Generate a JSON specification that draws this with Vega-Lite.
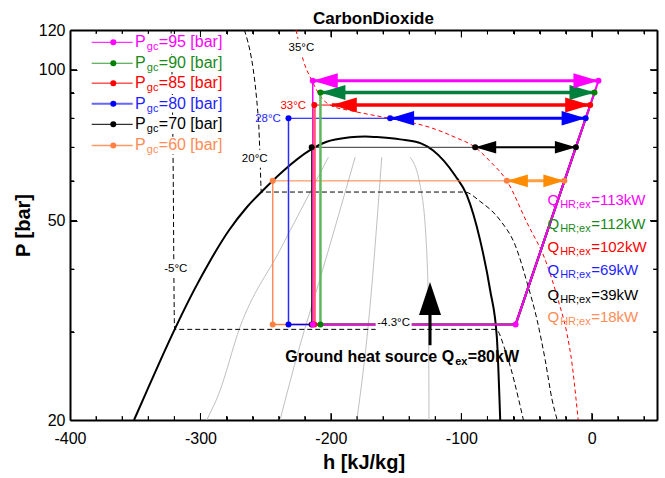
{
  "$schema": "https://vega.github.io/schema/vega-lite/v6.json",
  "width": 587,
  "height": 390,
  "autosize": {"type": "none"},
  "padding": {"left": 70, "top": 30, "right": 8, "bottom": 58},
  "background": "white",
  "title": {"text": "CarbonDioxide", "font": "Liberation Sans", "fontSize": 17, "fontWeight": "bold", "color": "black", "anchor": "middle", "dx": 10, "offset": -6},
  "config": {
    "view": {"stroke": null},
    "font": "Liberation Sans",
    "axis": {"grid": false, "domainColor": "black", "domainWidth": 2, "tickColor": "black", "tickWidth": 1, "labelFont": "Liberation Sans", "labelFontSize": 16, "labelColor": "black", "titleFont": "Liberation Sans", "titleFontSize": 20, "titleFontWeight": "bold", "titleColor": "black", "labelFlush": false}
  },
  "datasets": {
    "tk": [
      {"side": "b", "major": "n", "h": -380, "P": 20}, {"side": "b", "major": "n", "h": -360, "P": 20}, {"side": "b", "major": "n", "h": -340, "P": 20}, {"side": "b", "major": "n", "h": -320, "P": 20}, {"side": "b", "major": "y", "h": -300, "P": 20}, {"side": "b", "major": "n", "h": -280, "P": 20}, {"side": "b", "major": "n", "h": -260, "P": 20}, {"side": "b", "major": "n", "h": -240, "P": 20}, {"side": "b", "major": "n", "h": -220, "P": 20}, {"side": "b", "major": "y", "h": -200, "P": 20}, {"side": "b", "major": "n", "h": -180, "P": 20}, {"side": "b", "major": "n", "h": -160, "P": 20}, {"side": "b", "major": "n", "h": -140, "P": 20}, {"side": "b", "major": "n", "h": -120, "P": 20}, {"side": "b", "major": "y", "h": -100, "P": 20}, {"side": "b", "major": "n", "h": -80, "P": 20}, {"side": "b", "major": "n", "h": -60, "P": 20}, {"side": "b", "major": "n", "h": -40, "P": 20}, {"side": "b", "major": "n", "h": -20, "P": 20}, {"side": "b", "major": "y", "h": 0, "P": 20}, {"side": "b", "major": "n", "h": 20, "P": 20}, {"side": "b", "major": "n", "h": 40, "P": 20},
      {"side": "t", "major": "n", "h": -380, "P": 120}, {"side": "t", "major": "n", "h": -360, "P": 120}, {"side": "t", "major": "n", "h": -340, "P": 120}, {"side": "t", "major": "n", "h": -320, "P": 120}, {"side": "t", "major": "y", "h": -300, "P": 120}, {"side": "t", "major": "n", "h": -280, "P": 120}, {"side": "t", "major": "n", "h": -260, "P": 120}, {"side": "t", "major": "n", "h": -240, "P": 120}, {"side": "t", "major": "n", "h": -220, "P": 120}, {"side": "t", "major": "y", "h": -200, "P": 120}, {"side": "t", "major": "n", "h": -180, "P": 120}, {"side": "t", "major": "n", "h": -160, "P": 120}, {"side": "t", "major": "n", "h": -140, "P": 120}, {"side": "t", "major": "n", "h": -120, "P": 120}, {"side": "t", "major": "y", "h": -100, "P": 120}, {"side": "t", "major": "n", "h": -80, "P": 120}, {"side": "t", "major": "n", "h": -60, "P": 120}, {"side": "t", "major": "n", "h": -40, "P": 120}, {"side": "t", "major": "n", "h": -20, "P": 120}, {"side": "t", "major": "y", "h": 0, "P": 120}, {"side": "t", "major": "n", "h": 20, "P": 120}, {"side": "t", "major": "n", "h": 40, "P": 120},
      {"side": "l", "major": "n", "h": -400, "P": 30}, {"side": "l", "major": "n", "h": -400, "P": 40}, {"side": "l", "major": "y", "h": -400, "P": 50}, {"side": "l", "major": "n", "h": -400, "P": 60}, {"side": "l", "major": "n", "h": -400, "P": 70}, {"side": "l", "major": "n", "h": -400, "P": 80}, {"side": "l", "major": "n", "h": -400, "P": 90}, {"side": "l", "major": "y", "h": -400, "P": 100},
      {"side": "r", "major": "n", "h": 50, "P": 30}, {"side": "r", "major": "n", "h": 50, "P": 40}, {"side": "r", "major": "y", "h": 50, "P": 50}, {"side": "r", "major": "n", "h": 50, "P": 60}, {"side": "r", "major": "n", "h": 50, "P": 70}, {"side": "r", "major": "n", "h": 50, "P": 80}, {"side": "r", "major": "n", "h": 50, "P": 90}, {"side": "r", "major": "y", "h": 50, "P": 100}
    ],
    "dome": [
      {"h": -350.9, "P": 20}, {"h": -342.5, "P": 22.43}, {"h": -330.6, "P": 26.34}, {"h": -318.2, "P": 30.93}, {"h": -304.9, "P": 36.32}, {"h": -292.3, "P": 41.68}, {"h": -278.1, "P": 47.82}, {"h": -264.3, "P": 53.22}, {"h": -252.0, "P": 57.46}, {"h": -235.9, "P": 63.0}, {"h": -216.3, "P": 69.0}, {"h": -203.7, "P": 71.74}, {"h": -185.3, "P": 73.3}, {"h": -173.8, "P": 73.6}, {"h": -162.3, "P": 73.3}, {"h": -146.9, "P": 72.6}, {"h": -130.5, "P": 71.2}, {"h": -121.6, "P": 69.0}, {"h": -104.8, "P": 61.5}, {"h": -95.8, "P": 56.2}, {"h": -85.6, "P": 45.7}, {"h": -77.9, "P": 36.3}, {"h": -72.8, "P": 29.3}, {"h": -70.2, "P": 20}
    ],
    "qual": [
      {"q": "1", "h": -295.2, "P": 20}, {"q": "1", "h": -286.3, "P": 22.43}, {"q": "1", "h": -269.6, "P": 30.69}, {"q": "1", "h": -239.1, "P": 43.63}, {"q": "1", "h": -201.9, "P": 66.9},
      {"q": "2", "h": -239.0, "P": 20}, {"q": "2", "h": -224.0, "P": 28.0}, {"q": "2", "h": -209.4, "P": 37.45}, {"q": "2", "h": -181.4, "P": 66.9},
      {"q": "3", "h": -180.1, "P": 20}, {"q": "3", "h": -171.2, "P": 31.22}, {"q": "3", "h": -161.0, "P": 66.9},
      {"q": "4", "h": -139.3, "P": 66.9}, {"q": "4", "h": -131.6, "P": 58.8}, {"q": "4", "h": -127.0, "P": 45.67}, {"q": "4", "h": -125.1, "P": 31.64}, {"q": "4", "h": -124.8, "P": 20}
    ],
    "iso": [
      {"T": "-5", "h": -322.5, "P": 120}, {"T": "-5", "h": -321.0, "P": 67.5}, {"T": "-5", "h": -320.0, "P": 31.5}, {"T": "-5", "h": -319.8, "P": 30.33}, {"T": "-5", "h": -73.5, "P": 30.33}, {"T": "-5", "h": -66.4, "P": 27.57}, {"T": "-5", "h": -52.4, "P": 20},
      {"T": "20", "h": -266.3, "P": 120}, {"T": "20", "h": -255.5, "P": 79.2}, {"T": "20", "h": -254.3, "P": 66.5}, {"T": "20", "h": -253.3, "P": 57.0}, {"T": "20", "h": -97.5, "P": 57.0}, {"T": "20", "h": -85.6, "P": 54.6}, {"T": "20", "h": -70.25, "P": 50.07}, {"T": "20", "h": -58.7, "P": 44.64}, {"T": "20", "h": -49.5, "P": 37.5}, {"T": "20", "h": -41.9, "P": 31.64}, {"T": "20", "h": -35.7, "P": 26.34}, {"T": "20", "h": -30.4, "P": 21.93}, {"T": "20", "h": -26.5, "P": 20}
    ],
    "iso35": [
      {"h": -226.7, "P": 120}, {"h": -221.1, "P": 104.3}, {"h": -214.65, "P": 95.2}, {"h": -206.75, "P": 87.6}, {"h": -198.3, "P": 84.5}, {"h": -185.3, "P": 82.9}, {"h": -154.6, "P": 79.9}, {"h": -124.0, "P": 76.7}, {"h": -104.8, "P": 73.3}, {"h": -89.4, "P": 70.0}, {"h": -77.9, "P": 65.6}, {"h": -65.1, "P": 60.0}, {"h": -49.8, "P": 49.6}, {"h": -34.4, "P": 40.9}, {"h": -25.8, "P": 34.7}, {"h": -19.1, "P": 29.8}, {"h": -15.0, "P": 25.74}, {"h": -12.0, "P": 21.93}, {"h": -10.4, "P": 20}
    ],
    "lines": [
      {"seg": "a60gc", "Pgc": "60", "part": "gc", "h": -244.6, "P": 60}, {"seg": "a60gc", "Pgc": "60", "part": "gc", "h": -65.1, "P": 60},
      {"seg": "b70gc", "Pgc": "70", "part": "gc", "h": -214.7, "P": 70}, {"seg": "b70gc", "Pgc": "70", "part": "gc", "h": -89.4, "P": 70},
      {"seg": "c80gc", "Pgc": "80", "part": "gc", "h": -232.5, "P": 80}, {"seg": "c80gc", "Pgc": "80", "part": "gc", "h": -154.6, "P": 80},
      {"seg": "d85gc", "Pgc": "85", "part": "gc", "h": -212.7, "P": 85}, {"seg": "d85gc", "Pgc": "85", "part": "gc", "h": -199.3, "P": 85},
      {"seg": "a60ev", "Pgc": "60", "part": "ev", "h": -244.6, "P": 31}, {"seg": "a60ev", "Pgc": "60", "part": "ev", "h": -58.4, "P": 31},
      {"seg": "b70ev", "Pgc": "70", "part": "ev", "h": -214.7, "P": 31}, {"seg": "b70ev", "Pgc": "70", "part": "ev", "h": -58.4, "P": 31},
      {"seg": "c80ev", "Pgc": "80", "part": "ev", "h": -232.5, "P": 31}, {"seg": "c80ev", "Pgc": "80", "part": "ev", "h": -58.4, "P": 31},
      {"seg": "d85ev", "Pgc": "85", "part": "ev", "h": -212.7, "P": 31}, {"seg": "d85ev", "Pgc": "85", "part": "ev", "h": -58.4, "P": 31},
      {"seg": "e90ev", "Pgc": "90", "part": "ev", "h": -208.0, "P": 31}, {"seg": "e90ev", "Pgc": "90", "part": "ev", "h": -58.4, "P": 31},
      {"seg": "f95ev", "Pgc": "95", "part": "ev", "h": -213.9, "P": 31}, {"seg": "f95ev", "Pgc": "95", "part": "ev", "h": -58.4, "P": 31},
      {"seg": "a60cp", "Pgc": "60", "part": "cp", "h": -58.4, "P": 31}, {"seg": "a60cp", "Pgc": "60", "part": "cp", "h": -21.0, "P": 60},
      {"seg": "b70cp", "Pgc": "70", "part": "cp", "h": -58.4, "P": 31}, {"seg": "b70cp", "Pgc": "70", "part": "cp", "h": -12.2, "P": 70},
      {"seg": "c80cp", "Pgc": "80", "part": "cp", "h": -58.4, "P": 31}, {"seg": "c80cp", "Pgc": "80", "part": "cp", "h": -4.7, "P": 80},
      {"seg": "d85cp", "Pgc": "85", "part": "cp", "h": -58.4, "P": 31}, {"seg": "d85cp", "Pgc": "85", "part": "cp", "h": -1.2, "P": 85},
      {"seg": "e90cp", "Pgc": "90", "part": "cp", "h": -58.4, "P": 31}, {"seg": "e90cp", "Pgc": "90", "part": "cp", "h": 2.1, "P": 90},
      {"seg": "f95cp", "Pgc": "95", "part": "cp", "h": -58.4, "P": 31}, {"seg": "f95cp", "Pgc": "95", "part": "cp", "h": 5.1, "P": 95}
    ],
    "vert": [
      {"Pgc": "70", "h": -214.7, "P": 70}, {"Pgc": "70", "h": -214.7, "P": 31},
      {"Pgc": "95", "h": -213.9, "P": 95}, {"Pgc": "95", "h": -213.9, "P": 31},
      {"Pgc": "85", "h": -212.7, "P": 85}, {"Pgc": "85", "h": -212.7, "P": 31},
      {"Pgc": "90", "h": -208.0, "P": 90}, {"Pgc": "90", "h": -208.0, "P": 31},
      {"Pgc": "80", "h": -232.5, "P": 80}, {"Pgc": "80", "h": -232.5, "P": 31},
      {"Pgc": "60", "h": -244.6, "P": 60}, {"Pgc": "60", "h": -244.6, "P": 31}
    ],
    "shaft": [
      {"Pgc": "60", "h": -65.1, "P": 60}, {"Pgc": "60", "h": -21.0, "P": 60},
      {"Pgc": "70", "h": -89.4, "P": 70}, {"Pgc": "70", "h": -12.2, "P": 70},
      {"Pgc": "80", "h": -154.6, "P": 80}, {"Pgc": "80", "h": -4.7, "P": 80},
      {"Pgc": "85", "h": -199.3, "P": 85}, {"Pgc": "85", "h": -1.2, "P": 85},
      {"Pgc": "90", "h": -208.0, "P": 90}, {"Pgc": "90", "h": 2.1, "P": 90},
      {"Pgc": "95", "h": -213.9, "P": 95}, {"Pgc": "95", "h": 5.1, "P": 95}
    ],
    "heads": [
      {"Pgc": "60", "dir": "L", "h": -65.1, "P": 60}, {"Pgc": "60", "dir": "R", "h": -21.0, "P": 60},
      {"Pgc": "70", "dir": "L", "h": -89.4, "P": 70}, {"Pgc": "70", "dir": "R", "h": -12.2, "P": 70},
      {"Pgc": "80", "dir": "L", "h": -154.6, "P": 80}, {"Pgc": "80", "dir": "R", "h": -4.7, "P": 80},
      {"Pgc": "85", "dir": "L", "h": -199.3, "P": 85}, {"Pgc": "85", "dir": "R", "h": -1.2, "P": 85},
      {"Pgc": "90", "dir": "L", "h": -208.0, "P": 90}, {"Pgc": "90", "dir": "R", "h": 2.1, "P": 90},
      {"Pgc": "95", "dir": "L", "h": -213.9, "P": 95}, {"Pgc": "95", "dir": "R", "h": 5.1, "P": 95}
    ],
    "dots": [
      {"Pgc": "60", "h": -244.6, "P": 60}, {"Pgc": "70", "h": -214.7, "P": 70}, {"Pgc": "80", "h": -232.5, "P": 80}, {"Pgc": "85", "h": -212.7, "P": 85}, {"Pgc": "90", "h": -208.0, "P": 90}, {"Pgc": "95", "h": -213.9, "P": 95},
      {"Pgc": "80", "h": -154.6, "P": 80}, {"Pgc": "70", "h": -89.4, "P": 70}, {"Pgc": "60", "h": -65.1, "P": 60},
      {"Pgc": "60", "h": -21.0, "P": 60}, {"Pgc": "70", "h": -12.2, "P": 70}, {"Pgc": "80", "h": -4.7, "P": 80}, {"Pgc": "85", "h": -1.2, "P": 85}, {"Pgc": "90", "h": 2.1, "P": 90}, {"Pgc": "95", "h": 5.1, "P": 95},
      {"Pgc": "70", "h": -214.7, "P": 31}, {"Pgc": "85", "h": -212.7, "P": 31}, {"Pgc": "60", "h": -244.6, "P": 31}, {"Pgc": "80", "h": -232.5, "P": 31}, {"Pgc": "90", "h": -208.0, "P": 31}, {"Pgc": "95", "h": -213.9, "P": 31},
      {"Pgc": "95", "h": -58.4, "P": 31}
    ],
    "tlab": [
      {"lab": "35°C", "s": "k", "h": -222.6, "P": 110.6},
      {"lab": "33°C", "s": "r", "h": -228.8, "P": 84.5},
      {"lab": "28°C", "s": "b", "h": -248.2, "P": 79.6},
      {"lab": "20°C", "s": "k", "h": -258.4, "P": 66.45},
      {"lab": "-5°C", "s": "k", "h": -318.9, "P": 40.1},
      {"lab": "-4.3°C", "s": "k", "h": -151.9, "P": 31.3}
    ],
    "leg": [
      {"Pgc": "95", "h": -341.9, "P": 113.4, "val": "=95 [bar]"},
      {"Pgc": "90", "h": -341.9, "P": 103.0, "val": "=90 [bar]"},
      {"Pgc": "85", "h": -341.9, "P": 94.0, "val": "=85 [bar]"},
      {"Pgc": "80", "h": -341.9, "P": 85.5, "val": "=80 [bar]"},
      {"Pgc": "70", "h": -341.9, "P": 77.8, "val": "=70 [bar]"},
      {"Pgc": "60", "h": -341.9, "P": 70.6, "val": "=60 [bar]"}
    ],
    "qhr": [
      {"Pgc": "95", "h": -25.0, "P": 54.9, "val": "=113kW"},
      {"Pgc": "90", "h": -25.0, "P": 49.3, "val": "=112kW"},
      {"Pgc": "85", "h": -25.0, "P": 44.3, "val": "=102kW"},
      {"Pgc": "80", "h": -25.0, "P": 39.8, "val": "=69kW"},
      {"Pgc": "70", "h": -25.0, "P": 35.5, "val": "=39kW"},
      {"Pgc": "60", "h": -25.0, "P": 32.1, "val": "=18kW"}
    ]
  },
  "layer": [
    {
      "encoding": {
        "x": {"field": "h", "type": "quantitative", "scale": {"domain": [-400, 50], "nice": false, "zero": false},
          "axis": {"orient": "bottom", "title": "h [kJ/kg]", "values": [-400, -380, -360, -340, -320, -300, -280, -260, -240, -220, -200, -180, -160, -140, -120, -100, -80, -60, -40, -20, 0, 20, 40],
            "labelExpr": "datum.value % 100 == 0 ? '' + datum.value : ''",
            "tickSize": {"condition": {"test": "datum.value % 100 == 0", "value": -7}, "value": -4},
            "labelPadding": 17, "titlePadding": 6}},
        "y": {"field": "P", "type": "quantitative", "scale": {"type": "log", "domain": [20, 120], "nice": false},
          "axis": {"orient": "left", "title": "P [bar]", "values": [20, 30, 40, 50, 60, 70, 80, 90, 100, 120],
            "labelExpr": "indexof([20, 50, 100, 120], datum.value) >= 0 ? '' + datum.value : ''",
            "tickSize": {"condition": {"test": "indexof([20, 50, 100, 120], datum.value) >= 0", "value": -7}, "value": -4},
            "labelPadding": 12, "titlePadding": 5}}
      },
      "resolve": {"scale": {"color": "independent", "strokeWidth": "independent", "shape": "independent", "size": "independent"}},
      "layer": [
        {"data": {"name": "qual"}, "mark": {"type": "line", "color": "#c0c0c0", "strokeWidth": 1, "interpolate": "monotone"}, "encoding": {"detail": {"field": "q"}}},
        {"data": {"name": "dome"}, "mark": {"type": "line", "color": "black", "strokeWidth": 2, "interpolate": "monotone"}, "encoding": {}},
        {"data": {"name": "iso"}, "mark": {"type": "line", "color": "black", "strokeWidth": 1, "strokeDash": [5, 3], "interpolate": "monotone"}, "encoding": {"detail": {"field": "T"}}},
        {"data": {"name": "iso35"}, "mark": {"type": "line", "color": "#ff0000", "strokeWidth": 1, "strokeDash": [4, 3], "interpolate": "monotone"}, "encoding": {}},
        {"data": {"name": "lines"}, "mark": {"type": "line"},
          "encoding": {
            "detail": {"field": "seg"},
            "color": {"field": "Pgc", "type": "nominal", "scale": {"domain": ["60", "70", "80", "85", "90", "95"], "range": ["#ff8040", "#333333", "#0000ff", "#ff0000", "#008000", "#ff00ff"]}, "legend": null},
            "strokeWidth": {"field": "part", "type": "ordinal", "scale": {"type": "ordinal", "domain": ["gc", "ev", "cp"], "range": [1, 1.5, 2]}, "legend": null}
          }},
        {"data": {"name": "vert"}, "mark": {"type": "line"},
          "encoding": {
            "color": {"field": "Pgc", "type": "nominal", "scale": {"domain": ["60", "70", "80", "85", "90", "95"], "range": ["#ff8a5c", "#000000", "#2b2bff", "#ff5a6e", "#5cb85c", "#ff00ff"]}, "legend": null},
            "strokeWidth": {"field": "Pgc", "type": "ordinal", "scale": {"type": "ordinal", "domain": ["60", "70", "80", "85", "90", "95"], "range": [1.5, 1, 1.5, 3, 2.5, 1.5]}, "legend": null}
          }},
        {"data": {"name": "shaft"}, "mark": {"type": "line"},
          "encoding": {
            "color": {"field": "Pgc", "type": "nominal", "scale": {"domain": ["60", "70", "80", "85", "90", "95"], "range": ["#ffa040", "#000000", "#0000ff", "#ff0000", "#00803c", "#ff00ff"]}, "legend": null},
            "strokeWidth": {"field": "Pgc", "type": "ordinal", "scale": {"type": "ordinal", "domain": ["60", "70", "80", "85", "90", "95"], "range": [3, 2, 3, 3.5, 3.5, 3]}, "legend": null}
          }},
        {"data": {"name": "heads"}, "mark": {"type": "point", "filled": true, "opacity": 1, "strokeWidth": 0},
          "encoding": {
            "shape": {"field": "dir", "type": "nominal", "scale": {"domain": ["L", "R"], "range": ["M0,0L2,-0.6L2,0.6Z", "M0,0L-2,-0.6L-2,0.6Z"]}, "legend": null},
            "color": {"field": "Pgc", "type": "nominal", "scale": {"domain": ["60", "70", "80", "85", "90", "95"], "range": ["#ff8c00", "#000000", "#0000ff", "#ff0000", "#00803c", "#ff00ff"]}, "legend": null},
            "size": {"field": "Pgc", "type": "ordinal", "scale": {"type": "ordinal", "domain": ["60", "70", "80", "85", "90", "95"], "range": [441, 441, 576, 625, 625, 625]}, "legend": null}
          }},
        {"data": {"values": [{"h": -124.0, "P": 28.2}, {"h": -124.0, "P": 33.5}]}, "mark": {"type": "line", "color": "black", "strokeWidth": 3}, "encoding": {}},
        {"data": {"values": [{"h": -124.0, "P": 37.7}]}, "mark": {"type": "point", "shape": "M0,0L-0.667,2L0.667,2Z", "size": 1089, "filled": true, "opacity": 1, "color": "black", "strokeWidth": 0}, "encoding": {}},
        {"data": {"name": "tlab"}, "transform": [{"filter": "indexof(['35°C', '20°C', '-5°C', '-4.3°C'], datum.lab) >= 0"}],
          "mark": {"type": "point", "shape": "M-1,-0.5L1,-0.5L1,0.5L-1,0.5Z", "size": 1296, "filled": true, "opacity": 1, "color": "white", "strokeWidth": 0}, "encoding": {}},
        {"data": {"name": "dots"}, "mark": {"type": "circle", "opacity": 1, "size": 36},
          "encoding": {
            "color": {"field": "Pgc", "type": "nominal", "scale": {"domain": ["60", "70", "80", "85", "90", "95"], "range": ["#ff8040", "#000000", "#0000ff", "#ff0000", "#008000", "#ff00ff"]}, "legend": null}
          }},
        {"data": {"name": "tlab"}, "mark": {"type": "text", "fontSize": 11.5, "baseline": "middle", "align": "center"},
          "encoding": {
            "text": {"field": "lab"},
            "color": {"field": "s", "type": "nominal", "scale": {"domain": ["k", "r", "b"], "range": ["#000000", "#ff0000", "#1f1fff"]}, "legend": null}
          }},
        {"data": {"name": "leg"}, "mark": {"type": "point", "shape": "M-1,-0.125L1,-0.125L1,0.125L-1,0.125Z", "size": 19600, "filled": true, "opacity": 1, "color": "white", "strokeWidth": 0, "xOffset": 10.7}, "encoding": {}},
        {"data": {"name": "leg"}, "mark": {"type": "point", "shape": "M-1,0L1,0", "size": 1681, "filled": false, "opacity": 1, "xOffset": -33.6},
          "encoding": {
            "color": {"field": "Pgc", "type": "nominal", "scale": {"domain": ["95", "90", "85", "80", "70", "60"], "range": ["#ff00ff", "#339933", "#ff0000", "#6666ff", "#000000", "#ff9966"]}, "legend": null},
            "strokeWidth": {"field": "Pgc", "type": "ordinal", "scale": {"type": "ordinal", "domain": ["95", "90", "85", "80", "70", "60"], "range": [1, 1.2, 1, 2, 1, 1.5]}, "legend": null}
          }},
        {"data": {"name": "leg"}, "mark": {"type": "circle", "opacity": 1, "size": 36, "xOffset": -32.5},
          "encoding": {
            "color": {"field": "Pgc", "type": "nominal", "scale": {"domain": ["95", "90", "85", "80", "70", "60"], "range": ["#ff00ff", "#008000", "#ff0000", "#0000ff", "#000000", "#ff8040"]}, "legend": null}
          }},
        {"data": {"name": "leg"}, "mark": {"type": "text", "text": "P", "align": "right", "baseline": "middle", "fontSize": 16},
          "encoding": {
            "color": {"field": "Pgc", "type": "nominal", "scale": {"domain": ["95", "90", "85", "80", "70", "60"], "range": ["#ff00ff", "#1a8a1a", "#ff0000", "#1f1fff", "#000000", "#ff8c55"]}, "legend": null}
          }},
        {"data": {"name": "leg"}, "mark": {"type": "text", "text": "gc", "align": "left", "baseline": "middle", "fontSize": 11, "dx": 1, "dy": 5},
          "encoding": {
            "color": {"field": "Pgc", "type": "nominal", "scale": {"domain": ["95", "90", "85", "80", "70", "60"], "range": ["#ff00ff", "#1a8a1a", "#ff0000", "#1f1fff", "#000000", "#ff8c55"]}, "legend": null}
          }},
        {"data": {"name": "leg"}, "mark": {"type": "text", "align": "left", "baseline": "middle", "fontSize": 16, "dx": 13},
          "encoding": {
            "text": {"field": "val"},
            "color": {"field": "Pgc", "type": "nominal", "scale": {"domain": ["95", "90", "85", "80", "70", "60"], "range": ["#ff00ff", "#1a8a1a", "#ff0000", "#1f1fff", "#000000", "#ff8c55"]}, "legend": null}
          }},
        {"data": {"name": "qhr"}, "mark": {"type": "text", "text": "Q", "align": "right", "baseline": "middle", "fontSize": 15},
          "encoding": {
            "color": {"field": "Pgc", "type": "nominal", "scale": {"domain": ["95", "90", "85", "80", "70", "60"], "range": ["#ff00ff", "#1a8a1a", "#ff0000", "#1f1fff", "#000000", "#ff8c55"]}, "legend": null}
          }},
        {"data": {"name": "qhr"}, "mark": {"type": "text", "text": "HR;ex", "align": "left", "baseline": "middle", "fontSize": 11, "dx": 1, "dy": 5},
          "encoding": {
            "color": {"field": "Pgc", "type": "nominal", "scale": {"domain": ["95", "90", "85", "80", "70", "60"], "range": ["#ff00ff", "#1a8a1a", "#ff0000", "#1f1fff", "#000000", "#ff8c55"]}, "legend": null}
          }},
        {"data": {"name": "qhr"}, "mark": {"type": "text", "align": "left", "baseline": "middle", "fontSize": 15, "dx": 32},
          "encoding": {
            "text": {"field": "val"},
            "color": {"field": "Pgc", "type": "nominal", "scale": {"domain": ["95", "90", "85", "80", "70", "60"], "range": ["#ff00ff", "#1a8a1a", "#ff0000", "#1f1fff", "#000000", "#ff8c55"]}, "legend": null}
          }},
        {"data": {"values": [{"h": -105.5, "P": 26.7}]}, "mark": {"type": "text", "text": "Ground heat source Q", "align": "right", "baseline": "middle", "fontSize": 16, "fontWeight": "bold", "color": "black"}, "encoding": {}},
        {"data": {"values": [{"h": -105.5, "P": 26.7}]}, "mark": {"type": "text", "text": "ex", "align": "left", "baseline": "middle", "fontSize": 11, "fontWeight": "bold", "dx": 1, "dy": 5, "color": "black"}, "encoding": {}},
        {"data": {"values": [{"h": -105.5, "P": 26.7}]}, "mark": {"type": "text", "text": "=80kW", "align": "left", "baseline": "middle", "fontSize": 16, "fontWeight": "bold", "dx": 13.7, "color": "black"}, "encoding": {}},
        {"data": {"name": "tk"}, "mark": {"type": "point", "filled": false, "opacity": 1, "color": "black", "strokeWidth": 1},
          "encoding": {
            "shape": {"field": "side", "type": "nominal", "scale": {"domain": ["b", "t", "l", "r"], "range": ["M0,0L0,-1", "M0,0L0,1", "M0,0L1,0", "M0,0L-1,0"]}, "legend": null},
            "size": {"field": "major", "type": "ordinal", "scale": {"type": "ordinal", "domain": ["n", "y"], "range": [64, 196]}, "legend": null}
          }}
      ]
    },
    {
      "data": {"name": "dome"},
      "mark": {"type": "point", "opacity": 0},
      "encoding": {
        "x": {"field": "h", "type": "quantitative", "scale": {"domain": [-400, 50], "nice": false, "zero": false},
          "axis": {"orient": "top", "title": null, "labels": false, "values": [-400, -380, -360, -340, -320, -300, -280, -260, -240, -220, -200, -180, -160, -140, -120, -100, -80, -60, -40, -20, 0, 20, 40],
            "tickSize": {"condition": {"test": "datum.value % 100 == 0", "value": -7}, "value": -4}}},
        "y": {"field": "P", "type": "quantitative", "scale": {"type": "log", "domain": [20, 120], "nice": false},
          "axis": {"orient": "right", "title": null, "labels": false, "values": [20, 30, 40, 50, 60, 70, 80, 90, 100, 120],
            "tickSize": {"condition": {"test": "indexof([20, 50, 100, 120], datum.value) >= 0", "value": -7}, "value": -4}}}
      }
    }
  ],
  "resolve": {"axis": {"x": "independent", "y": "independent"}}
}
